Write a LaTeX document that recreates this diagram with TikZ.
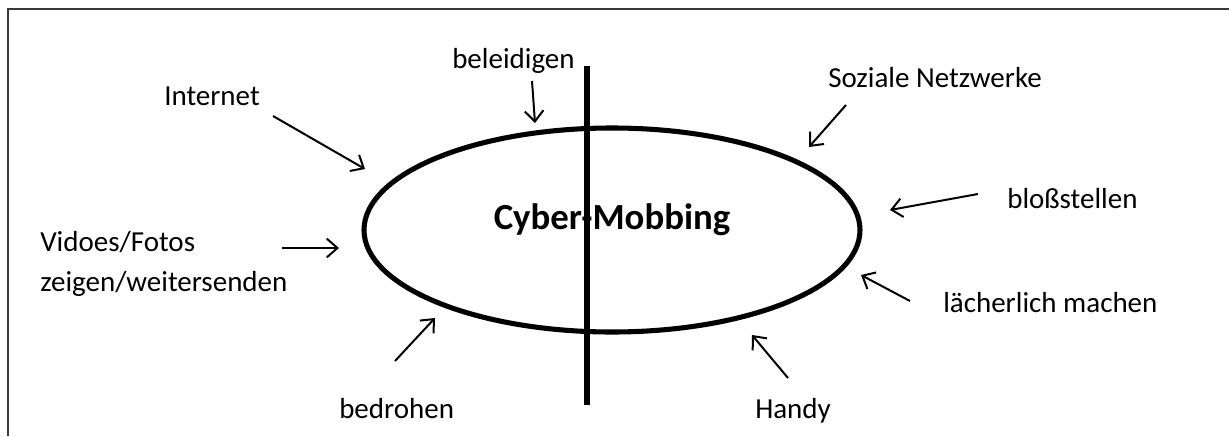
\documentclass[tikz,border=0pt]{standalone}
\usepackage{fontspec}
\setmainfont{Carlito}
\usetikzlibrary{arrows.meta,shapes.geometric}

\tikzset{
  lbl/.style={inner sep=0pt, anchor=base west, font=\fontsize{21.75pt}{30pt}\selectfont},
  ptr/.style={line width=1.5pt, -{Straight Barb[length=8pt,width=14pt,line width=1.5pt]}},
  frameline/.style={draw=black!78, line width=1.1pt},
}

\begin{document}
\begin{tikzpicture}[x=0.75pt, y=-0.75pt]
  \useasboundingbox (0,0) rectangle (1229,436);

  % page frame (top and left edges only)
  \coordinate (fbl) at (8,436);
  \coordinate (ftl) at (8,9);
  \coordinate (ftr) at (1229,9);
  \draw[frameline] (fbl) -- (ftl) -- (ftr);

  % central ellipse and title
  \node[ellipse, draw, line width=3.8pt, minimum width=372pt, minimum height=153pt, inner sep=0pt] (hub) at (612,230) {};
  \node[inner sep=0pt, anchor=base, font=\fontsize{27.6pt}{32pt}\selectfont\bfseries] (title) at (612,229) {Cyber-Mobbing};

  % dividing bar
  \coordinate (bartop) at (587,66);
  \coordinate (barbot) at (587,405);
  \draw[line width=4.6pt] (bartop) -- (barbot);

  % labels
  \node[lbl] (beleid) at (452,68) {beleidigen};
  \node[lbl] (inet) at (164,105) {Internet};
  \node[lbl] (sozial) at (828,87) {Soziale Netzwerke};
  \node[lbl] (bloss) at (1007,208) {bloßstellen};
  \node[lbl, align=left, anchor=north west] (video) at (40,231) {Vidoes/Fotos\\zeigen/weitersenden};
  \node[lbl] (laech) at (943,312) {lächerlich machen};
  \node[lbl] (bedroh) at (339,418) {bedrohen};
  \node[lbl] (handy) at (755,418) {Handy};

  % arrow end points
  \coordinate (a1s) at (532,81);  \coordinate (a1e) at (535,123);
  \coordinate (a2s) at (273,116); \coordinate (a2e) at (365,169);
  \coordinate (a3s) at (846,105); \coordinate (a3e) at (809,147);
  \coordinate (a4s) at (978,194); \coordinate (a4e) at (890,210);
  \coordinate (a5s) at (282,248); \coordinate (a5e) at (339,248);
  \coordinate (a6s) at (910,301); \coordinate (a6e) at (861,275);
  \coordinate (a7s) at (788,378); \coordinate (a7e) at (752,335);
  \coordinate (a8s) at (395,361); \coordinate (a8e) at (435,318);

  \draw[ptr] (a1s) -- (a1e);
  \draw[ptr] (a2s) -- (a2e);
  \draw[ptr] (a3s) -- (a3e);
  \draw[ptr] (a4s) -- (a4e);
  \draw[ptr] (a5s) -- (a5e);
  \draw[ptr] (a6s) -- (a6e);
  \draw[ptr] (a7s) -- (a7e);
  \draw[ptr] (a8s) -- (a8e);
\end{tikzpicture}
\end{document}
